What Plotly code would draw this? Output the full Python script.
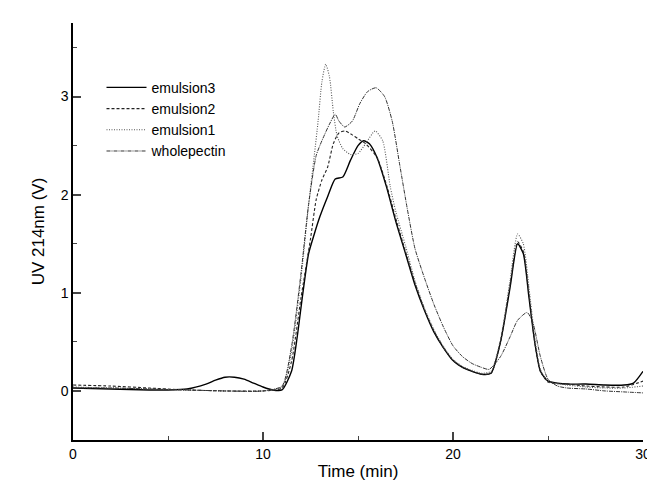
import plotly.graph_objects as go

# emulsion3 (solid)
t_e3 = [0, 2, 4, 5, 6, 7, 7.5, 8, 8.5, 9, 9.5, 10, 10.5, 11, 11.5, 11.8, 12.1, 12.4, 12.7, 13, 13.4, 13.8, 14.2, 14.6, 15, 15.3, 15.6, 16, 16.5, 17, 17.5, 18, 18.5, 19, 19.5, 20, 20.5, 21, 21.5, 22, 22.5, 23, 23.4, 23.7, 24, 24.3, 24.6, 25, 25.5, 26, 27, 28, 29, 29.5, 30]
v_e3 = [0.03, 0.02, 0.01, 0.01, 0.02, 0.07, 0.11, 0.14, 0.14, 0.12, 0.08, 0.04, 0.01, 0.01, 0.2, 0.55, 1.0, 1.4, 1.6, 1.78, 1.98, 2.16, 2.18, 2.35, 2.5, 2.55, 2.52, 2.38, 2.08, 1.72, 1.4, 1.08, 0.82, 0.6, 0.44, 0.31, 0.24, 0.2, 0.17, 0.18, 0.5, 1.05, 1.5, 1.4, 0.95, 0.5, 0.2, 0.1, 0.08, 0.07, 0.07, 0.06, 0.06, 0.08, 0.2]

# emulsion2 (dashed)
t_e2 = [0, 2, 4, 6, 8, 10, 11, 11.5, 12, 12.5, 12.8, 13.1, 13.4, 13.7, 14, 14.3, 14.7, 15, 15.4, 16, 16.5, 17, 17.5, 18, 18.5, 19, 19.5, 20, 20.5, 21, 21.5, 22, 22.5, 23, 23.4, 23.7, 24, 24.3, 24.6, 25, 26, 27, 28, 29, 30]
v_e2 = [0.06, 0.05, 0.03, 0.01, 0.0, 0.0, 0.03, 0.3, 0.95, 1.55, 1.95, 2.15, 2.28, 2.52, 2.63, 2.65, 2.61, 2.57, 2.52, 2.38, 2.1, 1.75, 1.42, 1.1, 0.83, 0.61, 0.44, 0.31, 0.24, 0.2, 0.17, 0.18, 0.5, 1.08, 1.52, 1.42, 0.98, 0.5, 0.2, 0.09, 0.07, 0.05, 0.04, 0.04, 0.1]

# emulsion1 (dotted)
t_e1 = [0, 2, 4, 6, 8, 10, 11, 11.5, 12, 12.4, 12.7, 12.9, 13.1, 13.3, 13.5, 13.7, 13.9, 14.2, 14.6, 15, 15.4, 15.9, 16.3, 16.7, 17, 17.5, 18, 18.5, 19, 19.5, 20, 20.5, 21, 21.5, 22, 22.5, 23, 23.4, 23.7, 24, 24.3, 24.6, 25, 26, 27, 28, 29, 30]
v_e1 = [0.04, 0.03, 0.02, 0.01, 0.0, 0.0, 0.04, 0.4, 1.15, 1.9, 2.4, 2.75, 3.15, 3.33, 3.2, 2.85, 2.6, 2.47, 2.41, 2.42, 2.52, 2.65, 2.55, 2.08, 1.82, 1.48, 1.12, 0.84, 0.62, 0.45, 0.32, 0.25, 0.21, 0.18, 0.2, 0.52, 1.12, 1.6, 1.5, 1.05, 0.55, 0.22, 0.1, 0.06, 0.04, 0.03, 0.03, 0.05]

# wholepectin (dash-dot)
t_wp = [0, 2, 4, 6, 8, 10, 11, 11.5, 12, 12.4, 12.8, 13.1, 13.5, 13.8, 14.0, 14.3, 14.7, 15.1, 15.5, 15.95, 16.4, 16.8, 17.2, 17.6, 18, 18.5, 19, 19.5, 20, 20.5, 21, 21.5, 21.9, 22.5, 23, 23.4, 23.9, 24.2, 24.6, 25, 25.5, 26, 27, 28, 29, 30]
v_wp = [0.03, 0.03, 0.02, 0.01, 0.0, 0.0, 0.05, 0.45, 1.2, 1.9, 2.4, 2.55, 2.72, 2.82, 2.75, 2.69, 2.75, 2.93, 3.05, 3.09, 3.0, 2.75, 2.3, 1.85, 1.45, 1.15, 0.88, 0.65, 0.46, 0.35, 0.28, 0.24, 0.22, 0.35, 0.55, 0.72, 0.8, 0.7, 0.35, 0.12, 0.05, 0.03, 0.02, 0.0, -0.01, -0.02]

series = [
    ("emulsion3", t_e3, v_e3, "solid", "#000000", 1.4),
    ("emulsion2", t_e2, v_e2, "3px,2px", "#222222", 1.1),
    ("emulsion1", t_e1, v_e1, "1px,1.5px", "#555555", 1.1),
    ("wholepectin", t_wp, v_wp, "4px,1px,1px,1px", "#333333", 1.0),
]

fig = go.Figure()
for name, t, v, dash, color, w in series:
    fig.add_trace(go.Scatter(x=t, y=v, mode="lines", name=name,
                             line=dict(color=color, width=w, dash=dash, shape="spline", smoothing=0.6)))

font = "Liberation Sans, Arial, sans-serif"
fig.update_layout(
    width=655, height=486,
    margin=dict(l=65, r=20, t=15, b=54),
    paper_bgcolor="white", plot_bgcolor="white",
    font=dict(family=font, size=14, color="black"),
    showlegend=True,
    legend=dict(x=0.05, y=0.883, xanchor="left", yanchor="top", bgcolor="rgba(0,0,0,0)",
                font=dict(size=14), tracegroupgap=0, itemwidth=40),
    xaxis=dict(range=[0, 30], tickvals=[0, 10, 20, 30], ticks="inside", ticklen=8, tickwidth=1.5,
               showline=True, linewidth=2, linecolor="black", showgrid=False, zeroline=False,
               minor=dict(tickvals=[5, 15, 25], ticks="inside", ticklen=4, tickwidth=1.2),
               title=dict(text="Time (min)", font=dict(size=17), standoff=4)),
    yaxis=dict(range=[-0.5, 3.75], tickvals=[0, 1, 2, 3], ticks="inside", ticklen=8, tickwidth=1.5,
               showline=True, linewidth=1.5, linecolor="black", showgrid=False, zeroline=False,
               minor=dict(tickvals=[0.5, 1.5, 2.5, 3.5], ticks="inside", ticklen=4, tickwidth=1.2),
               title=dict(text="UV 214nm (V)", font=dict(size=17), standoff=12)),
)
fig.write_html("out.html")
